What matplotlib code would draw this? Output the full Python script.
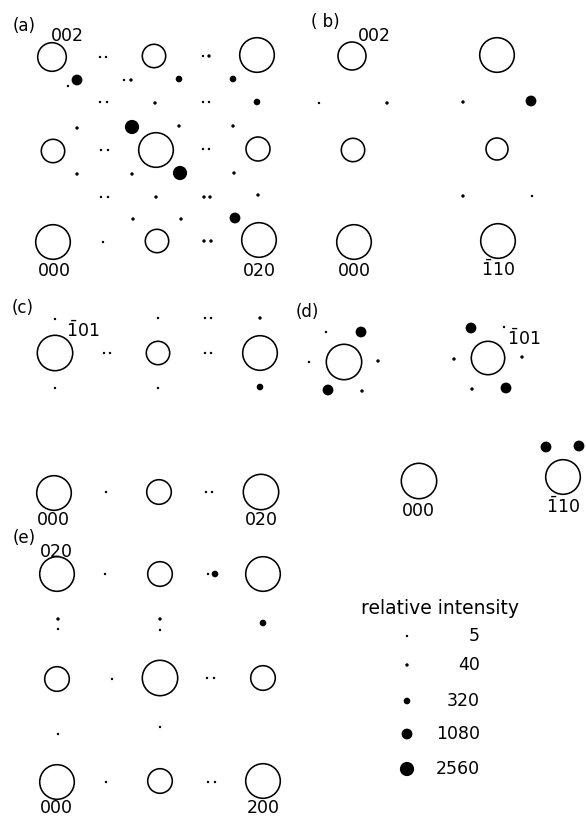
import matplotlib.pyplot as plt
from matplotlib.patches import Circle

plt.rcParams['font.family'] = 'DejaVu Sans'
plt.rcParams['mathtext.fontset'] = 'custom'
plt.rcParams['mathtext.rm'] = 'DejaVu Sans'

# open reflections (x, y, radius) and intensity spots (x, y, relative intensity)
# positions in figure pixels
a_rings = [(52, 57, 14.3), (154, 56, 11.7), (257, 55, 17.3),
           (53, 151, 11.7), (156, 150, 17.3), (258, 149, 12),
           (53, 242, 17.3), (157, 241, 11.7), (259, 240, 17.3)]
a_spots = [(100, 57, 5), (106, 57, 5), (203, 56, 5), (209, 56, 40),
           (77, 80, 1080), (68, 86, 5), (124, 80, 5), (131, 80, 40),
           (179, 79, 320), (233, 79, 320),
           (100, 102, 5), (107, 102, 5), (155, 103, 40), (203, 102, 5),
           (209, 102, 5), (257, 102, 320),
           (77, 128, 40), (132, 127, 2560), (179, 126, 40), (233, 126, 40),
           (101, 150, 5), (108, 150, 5), (203, 149, 5), (209, 149, 5),
           (77, 174, 40), (132, 174, 40), (180, 173, 2560), (234, 173, 40),
           (101, 197, 5), (108, 197, 5), (156, 197, 40), (204, 197, 40),
           (210, 197, 40), (258, 195, 40),
           (133, 219, 40), (181, 219, 40), (235, 218, 1080),
           (103, 242, 5), (204, 241, 40), (211, 241, 40)]

b_rings = [(352, 56, 14), (497, 55, 17.3), (353, 150, 11.7),
           (497, 149, 11), (354, 242, 17.3), (498, 241, 17.3)]
b_spots = [(319, 103, 5), (387, 103, 40), (463, 102, 40), (531, 101, 1080),
           (463, 196, 40), (532, 196, 5)]

c_rings = [(55, 353, 17.7), (158, 353, 11.7), (260, 353, 17.3),
           (54, 493, 17.3), (159, 492, 12.3), (261, 492, 17.7)]
c_spots = [(55, 319, 5), (158, 318, 5), (205, 318, 5), (211, 318, 5),
           (260, 318, 40), (104, 353, 5), (110, 353, 5), (205, 353, 5),
           (211, 353, 5), (55, 388, 5), (158, 388, 5), (260, 387, 320),
           (106, 492, 5), (206, 492, 5), (212, 492, 5)]

d_rings = [(344, 362, 17.7), (488, 358, 16.7), (419, 481, 17.7), (563, 477, 17.3)]
d_spots = [(326, 332, 5), (361, 332, 1080), (309, 362, 5), (378, 361, 40),
           (328, 390, 1080), (362, 391, 40),
           (471, 328, 1080), (504, 327, 5), (454, 359, 40), (522, 357, 40),
           (472, 389, 40), (506, 388, 1080),
           (546, 447, 1080), (579, 446, 1080)]

e_rings = [(57, 574, 17.3), (160, 574, 12.3), (263, 574, 17.3),
           (57, 679, 12.3), (160, 678, 17.7), (263, 678, 12.3),
           (57, 782, 17.3), (160, 781, 12.3), (263, 781, 17.3)]
e_spots = [(105, 574, 5), (208, 574, 5), (215, 574, 320),
           (58, 619, 40), (58, 629, 5), (160, 619, 40), (160, 630, 5),
           (263, 623, 320), (112, 679, 5), (207, 678, 5), (214, 678, 5),
           (58, 734, 5), (160, 727, 5), (106, 782, 5), (208, 782, 5),
           (215, 782, 5)]

# index labels (text, x, baseline y)
hkl_labels = [('002', 67, 41), ('000', 54, 276), ('020', 259, 276),
              ('002', 374, 41), ('000', 354, 276), (r'$\bar{1}10$', 498, 276),
              (r'$\bar{1}01$', 83, 337), ('000', 53, 525), ('020', 261, 525),
              (r'$\bar{1}01$', 524, 345), ('000', 418, 516), (r'$\bar{1}10$', 563, 513),
              ('020', 56, 557), ('000', 56, 813), ('200', 263, 813)]
panel_labels = [('(a)', 24, 26), ('( b)', 325, 22), ('(c)', 23, 308),
                ('(d)', 307, 312), ('(e)', 24, 538)]

legend_values = [5, 40, 320, 1080, 2560]
legend_y = [636, 665, 701, 734, 769]

spot_radius = {5: 1.2, 40: 1.7, 320: 3.3, 1080: 5.4, 2560: 7.1}

fig = plt.figure(figsize=(5.86, 8.19), dpi=100)
ax = fig.add_axes([0, 0, 1, 1])
ax.set_xlim(0, 586)
ax.set_ylim(819, 0)
ax.axis('off')

for rings in [a_rings, b_rings, c_rings, d_rings, e_rings]:
    for x, y, r in rings:
        ax.add_patch(Circle((x, y), r, fill=False, ec='black', lw=1.15))

for spots in [a_spots, b_spots, c_spots, d_spots, e_spots]:
    for x, y, inten in spots:
        ax.add_patch(Circle((x, y), spot_radius[inten], fc='black', ec='none'))

for txt, x, y in hkl_labels:
    ax.text(x, y, txt, ha='center', va='baseline', fontsize=12.5)

for txt, x, y in panel_labels:
    ax.text(x, y, txt, ha='center', va='center', fontsize=12)

#legend
ax.text(440, 608, 'relative intensity', ha='center', va='center', fontsize=13.5)
for val, y in zip(legend_values, legend_y):
    ax.add_patch(Circle((407, y), spot_radius[val], fc='black', ec='none'))
    ax.text(480, y, str(val), ha='right', va='center', fontsize=12.5)

fig.savefig('out.png', dpi=100)
